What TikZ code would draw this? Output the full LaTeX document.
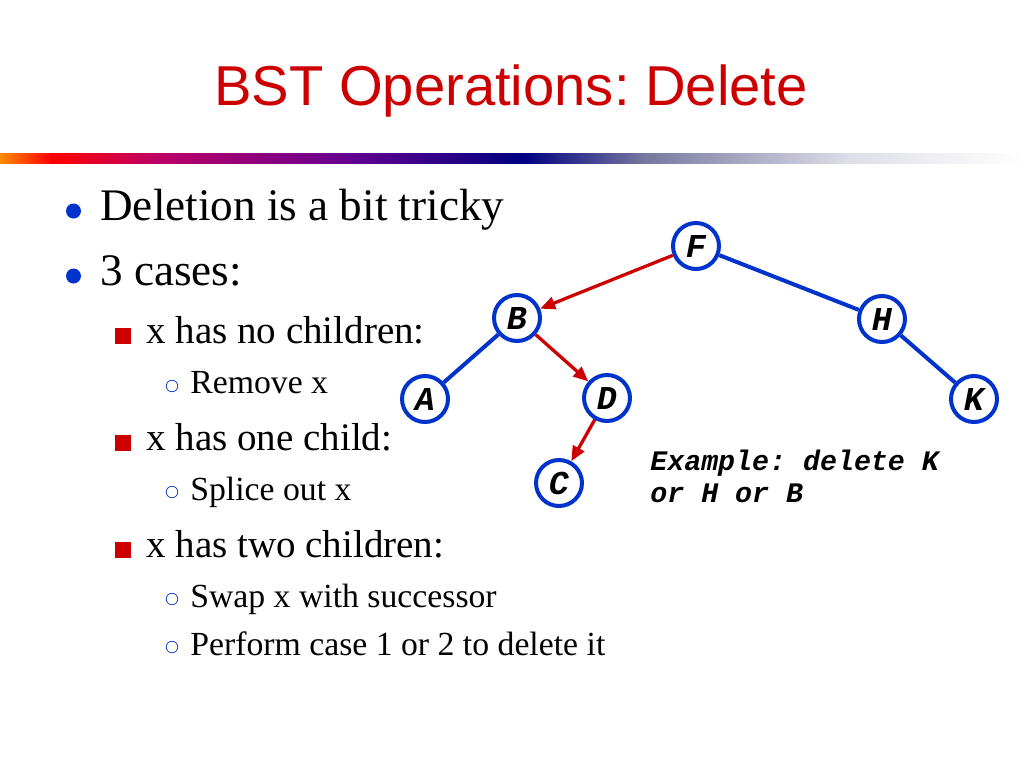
\documentclass[tikz,border=0pt]{standalone}
\usepackage{fontspec}
\setmainfont{Liberation Serif}
\newfontfamily\slidetitlefont{Liberation Sans}
\newfontfamily\treefont{Liberation Mono}
\usetikzlibrary{arrows.meta}

\definecolor{slidered}{RGB}{204,0,0}
\definecolor{treeblue}{RGB}{0,51,204}
\definecolor{barorange}{RGB}{255,140,0}
\definecolor{barred}{RGB}{255,0,0}
\definecolor{barmagenta}{RGB}{190,0,100}
\definecolor{barpurple}{RGB}{100,0,145}
\definecolor{barnavy}{RGB}{0,0,128}
\definecolor{bargray}{RGB}{120,120,160}
\definecolor{barlight}{RGB}{222,222,232}
\pgfdeclarehorizontalshading{titlebar}{100bp}{color(0bp)=(barorange); color(25bp)=(barorange); color(27.5bp)=(barred); color(32.5bp)=(barmagenta); color(42bp)=(barpurple); color(50.5bp)=(barnavy); color(56.5bp)=(bargray); color(66.5bp)=(barlight); color(75bp)=(white); color(100bp)=(white)}

\begin{document}
\frenchspacing
\begin{tikzpicture}[x=0.02cm, y=-0.02cm,
    treenode/.style={circle, draw=treeblue, line width=0.08cm, fill=white,
        minimum size=0.92cm, inner sep=0pt,
        font=\treefont\bfseries\itshape\fontsize{19}{19}\selectfont},
    treeline/.style={draw=treeblue, line width=0.08cm},
    treearrow/.style={draw=slidered, line width=0.065cm,
        -{Triangle[length=0.3cm,width=0.25cm]}},
    lvlone/.style={anchor=base west, inner sep=0pt, font=\fontsize{25.7}{30}\selectfont},
    lvltwo/.style={anchor=base west, inner sep=0pt, font=\fontsize{22.2}{26}\selectfont},
    lvlthree/.style={anchor=base west, inner sep=0pt, font=\fontsize{19.2}{22}\selectfont}]
    \useasboundingbox[fill=white] (0,0) rectangle (1024,768);

    % title and bar
    \node[anchor=base, inner sep=0pt, text=slidered,
        font=\slidetitlefont\fontsize{32}{36}\selectfont] (title) at (511,105) {BST Operations: Delete};
    \shade[shading=titlebar] (0,153) rectangle (1024,163);

    % bullets
    \foreach \y in {211,276} \fill[treeblue] (73.5,\y) circle (0.15cm);
    \foreach \y in {336,443,550} \fill[slidered] (115,\y-8) rectangle (131,\y+8);
    \foreach \y in {386,492,599,647} \draw[treeblue, line width=0.4pt] (172,\y) circle (0.115cm);

    \node[lvlone] (tricky) at (100,220) {Deletion is a bit tricky};
    \node[lvlone] (cases) at (100,285) {3 cases:};
    \node[lvltwo] (nochild) at (146,343) {x has no children:};
    \node[lvlthree] (remove) at (190,393) {Remove x};
    \node[lvltwo] (onechild) at (146,450) {x has one child:};
    \node[lvlthree] (splice) at (190,500) {Splice out x};
    \node[lvltwo] (twochild) at (146,557) {x has two children:};
    \node[lvlthree] (swap) at (190,607) {Swap x with successor};
    \node[lvlthree] (perform) at (190,655) {Perform case 1 or 2 to delete it};

    % tree
    \node[treenode] (F) at (696,246) {F};
    \node[treenode] (B) at (517,318) {B};
    \node[treenode] (H) at (882,319) {H};
    \node[treenode] (A) at (425,399) {A};
    \node[treenode] (D) at (607,398) {D};
    \node[treenode] (K) at (974,399) {K};
    \node[treenode] (C) at (559,483) {C};

    \draw[treeline] (F) -- (H);
    \draw[treeline] (B) -- (A);
    \draw[treeline] (H) -- (K);
    \draw[treearrow] (F) -- (B);
    \draw[treearrow] (B) -- (D);
    \draw[treearrow] (D) -- (C);

    \node[anchor=base west, inner sep=0pt, align=left,
        font=\treefont\bfseries\itshape\fontsize{16.1}{18.1}\selectfont] (example) at (650,502) {Example: delete K\\or H or B};
\end{tikzpicture}
\end{document}
